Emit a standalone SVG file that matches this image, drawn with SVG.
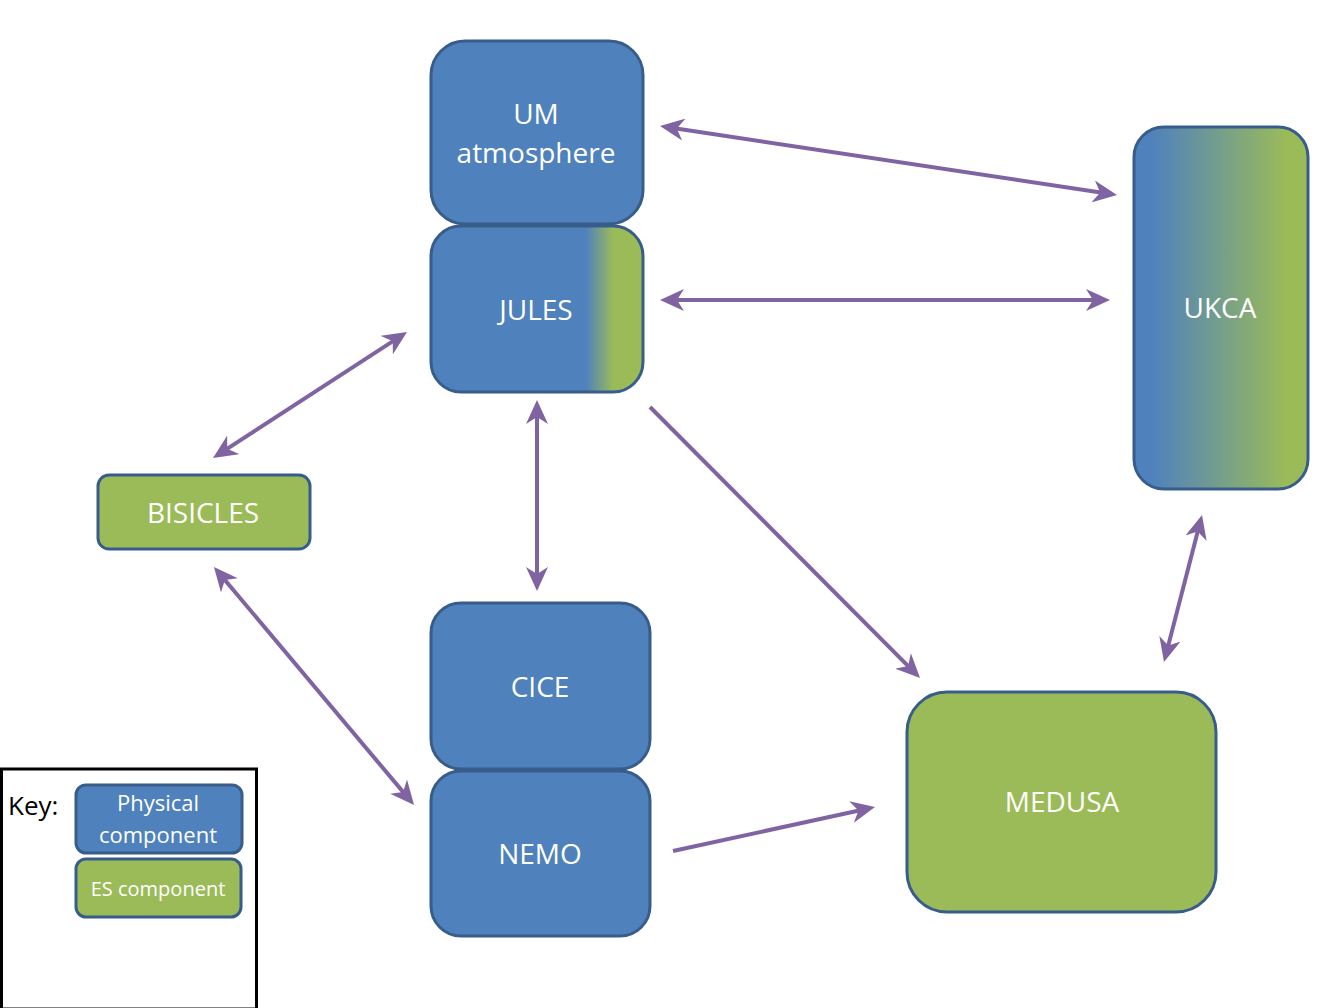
<svg xmlns="http://www.w3.org/2000/svg" width="1344" height="1008" viewBox="0 0 1344 1008">
<style>
.node{stroke:#385D8A;stroke-width:3}
.phys{fill:#4F81BD}
.es{fill:#9BBB59}
.lbl{font-family:"Open Sans","Liberation Sans",sans-serif;fill:#FFFFFF;text-anchor:middle;font-size:28px}
.conn{fill:none;stroke:#8064A2;stroke-width:4}
</style>
<defs>
<linearGradient id="gJules" x1="0" y1="0" x2="1" y2="0">
<stop offset="0.73" stop-color="#4F81BD"/>
<stop offset="0.86" stop-color="#9BBB59"/>
</linearGradient>
<linearGradient id="gUkca" x1="0" y1="0" x2="1" y2="0">
<stop offset="0.1" stop-color="#4F81BD"/>
<stop offset="0.88" stop-color="#9BBB59"/>
</linearGradient>
<marker id="ah" viewBox="0 0 24 22" markerUnits="userSpaceOnUse" markerWidth="24" markerHeight="22" refX="16" refY="11" orient="auto-start-reverse">
<path d="M24 11 L0 0 L7 11 L0 22 Z" fill="#8064A2"/>
</marker>
</defs>
<rect width="1344" height="1008" fill="#FFFFFF"/>

<g id="connectors">
<path class="conn" d="M667.9 127.2 L1109.1 193.8" marker-start="url(#ah)" marker-end="url(#ah)"/>
<path class="conn" d="M668 300 L1102 300" marker-start="url(#ah)" marker-end="url(#ah)"/>
<path class="conn" d="M400.3 336.4 L219.7 453.6" marker-start="url(#ah)" marker-end="url(#ah)"/>
<path class="conn" d="M537 408 L537 583" marker-start="url(#ah)" marker-end="url(#ah)"/>
<path class="conn" d="M650 407 L914.4 672.3" marker-end="url(#ah)"/>
<path class="conn" d="M219.1 573.1 L408.9 798.9" marker-start="url(#ah)" marker-end="url(#ah)"/>
<path class="conn" d="M673 851 L867.2 808.7" marker-end="url(#ah)"/>
<path class="conn" d="M1166 654.3 L1200 522.7" marker-start="url(#ah)" marker-end="url(#ah)"/>
</g>

<g id="um">
<rect class="node phys" x="431" y="41" width="212" height="183" rx="34"/>
<text class="lbl" x="536" y="124">UM</text>
<text class="lbl" x="536" y="163">atmosphere</text>
</g>
<g id="jules">
<rect class="node" fill="url(#gJules)" x="431" y="226" width="212" height="166" rx="30"/>
<text class="lbl" x="536" y="320">JULES</text>
</g>
<g id="ukca">
<rect class="node" fill="url(#gUkca)" x="1134" y="127" width="174" height="362" rx="30"/>
<text class="lbl" x="1220" y="318">UKCA</text>
</g>
<g id="bisicles">
<rect class="node es" x="98" y="475" width="212" height="74" rx="11"/>
<text class="lbl" x="203" y="523">BISICLES</text>
</g>
<g id="cice">
<rect class="node phys" x="431" y="603" width="219" height="166" rx="30"/>
<text class="lbl" x="540" y="697">CICE</text>
</g>
<g id="nemo">
<rect class="node phys" x="431" y="771" width="219" height="165" rx="30"/>
<text class="lbl" x="540" y="864">NEMO</text>
</g>
<g id="medusa">
<rect class="node es" x="907" y="692" width="309" height="220" rx="40"/>
<text class="lbl" x="1062" y="812">MEDUSA</text>
</g>

<g id="key">
<rect x="1.5" y="769" width="255" height="240" fill="none" stroke="#000000" stroke-width="3"/>
<text x="8" y="815" font-family="'Open Sans','Liberation Sans',sans-serif" font-size="26" fill="#000000">Key:</text>
<g id="key-physical">
<rect class="phys" x="76" y="785" width="166" height="68" rx="10" stroke="#385D8A" stroke-width="3"/>
<text class="lbl" x="158" y="811" style="font-size:22px">Physical</text>
<text class="lbl" x="158" y="843" style="font-size:22px">component</text>
</g>
<g id="key-es">
<rect class="es" x="76" y="859" width="165" height="58" rx="10" stroke="#385D8A" stroke-width="3"/>
<text class="lbl" x="158" y="896" style="font-size:20px">ES component</text>
</g>
</g>
</svg>
